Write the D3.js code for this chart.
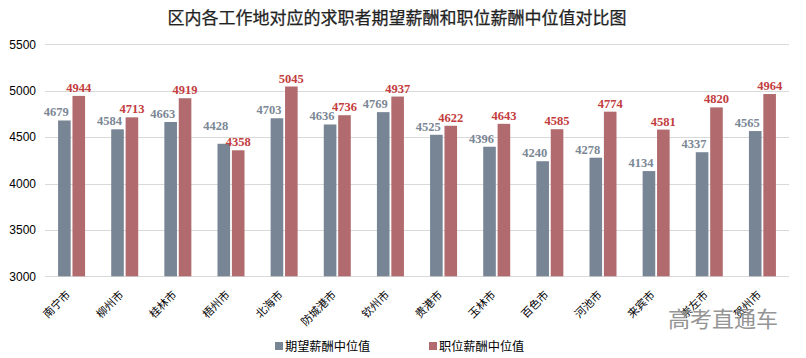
<!DOCTYPE html>
<html><head><meta charset="utf-8">
<script src="https://cdn.jsdelivr.net/npm/d3@7/dist/d3.min.js"></script>
<style>body{margin:0;background:#fff}svg{display:block}</style>
</head><body>
<svg id="c" width="806" height="358"></svg>
<script>
const categories = ["南宁市","柳州市","桂林市","梧州市","北海市","防城港市","钦州市","贵港市","玉林市","百色市","河池市","来宾市","崇左市","贺州市"];
const expectedPay = [4679,4584,4663,4428,4703,4636,4769,4525,4396,4240,4278,4134,4337,4565];
const jobPay = [4944,4713,4919,4358,5045,4736,4937,4622,4643,4585,4774,4581,4820,4964];
const yTicks = [3000,3500,4000,4500,5000,5500];
const seriesNames = ["期望薪酬中位值","职位薪酬中位值"];
const title = "区内各工作地对应的求职者期望薪酬和职位薪酬中位值对比图";

const svg = d3.select("#c");
const cjk = "'Noto Sans CJK SC','Noto Sans',sans-serif";
const colors = ["#788595","#b16b6e"];
const labelColors = ["#7b8795","#c33c3e"];

const x0 = d3.scaleBand().domain(categories).range([45,789]).paddingInner(0).paddingOuter(0);
const y = d3.scaleLinear().domain([3000,5500]).range([276.3,44.3]);
const bw = 12.6, gap = 1.8;

svg.append("text").attr("x",397).attr("y",24).attr("text-anchor","middle")
  .attr("font-family",cjk).attr("font-size",17).attr("fill","#222").attr("stroke","#222").attr("stroke-width",0.25).text(title);

// gridlines
svg.append("g").selectAll("line").data(yTicks).join("line")
  .attr("x1",45).attr("x2",789).attr("y1",d=>Math.round(y(d))+0.5).attr("y2",d=>Math.round(y(d))+0.5)
  .attr("stroke","#d9d9d9").attr("stroke-width",1);

// y axis labels
const yAxis = d3.axisLeft(y).tickValues(yTicks).tickSize(0).tickPadding(9).tickFormat(d3.format("d"));
const ga = svg.append("g").attr("transform","translate(45,0)").call(yAxis);
ga.select(".domain").remove();
ga.selectAll("text").attr("font-family","'Liberation Sans',Arial,sans-serif").attr("font-size",12).attr("fill","#000");

const series = [expectedPay, jobPay];
const cxOf = (si,i)=> x0(categories[i]) + x0.bandwidth()/2 + (si===0 ? -(gap/2+bw) : gap/2);
series.forEach((vals,si)=>{
  svg.append("g").selectAll("rect").data(vals).join("rect")
    .attr("x",(d,i)=>cxOf(si,i)).attr("width",bw)
    .attr("y",d=>y(d)).attr("height",d=>y(3000)-y(d))
    .attr("fill",colors[si]);
});
// labels (blue label lifted above the red one when it would sit at or above it)
series.forEach((vals,si)=>{
  svg.append("g").selectAll("text").data(vals).join("text")
    .attr("x",(d,i)=>cxOf(si,i)+bw/2 + (si===0?-8:0))
    .attr("y",(d,i)=>{
      let ly = y(d)-4;
      if(si===0){
        const ry = y(jobPay[i])-4;
        if(ly < ry+3) ly = ry-16;
      }
      return ly;
    })
    .attr("text-anchor","middle")
    .attr("font-family","'Liberation Serif','DejaVu Serif',serif")
    .attr("font-weight","bold").attr("font-size",12.5)
    .attr("fill",labelColors[si]).text(d=>d);
});

// x labels
svg.append("g").selectAll("text").data(categories).join("text")
  .attr("transform",d=>`translate(${x0(d)+x0.bandwidth()/2-0.5},${295.5}) rotate(-45)`)
  .attr("text-anchor","end").attr("font-family",cjk).attr("font-size",11).attr("fill","#000")
  .text(d=>d);

// watermark
svg.append("text").attr("x",668).attr("y",327).attr("font-family",cjk).attr("font-size",22)
  .attr("fill","#8a8a8a").attr("opacity",0.9).text("高考直通车");

// legend
const lx = [275,429];
seriesNames.forEach((n,i)=>{
  svg.append("rect").attr("x",lx[i]).attr("y",342).attr("width",8).attr("height",8).attr("fill",colors[i]);
  svg.append("text").attr("x",lx[i]+10).attr("y",351).attr("font-family",cjk).attr("font-size",12.2).attr("fill","#000").text(n);
});
</script>
</body></html>
